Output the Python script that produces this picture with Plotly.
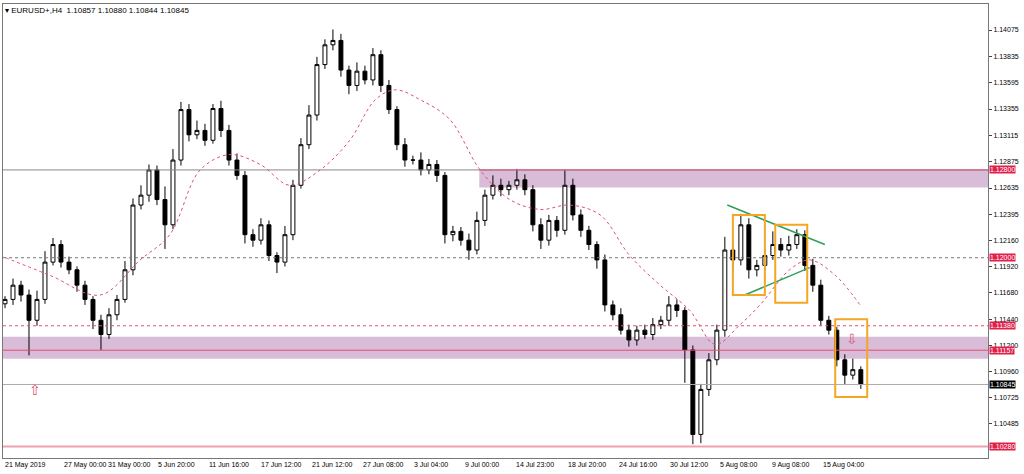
import plotly.graph_objects as go

# closes, one bar every ~8px of the original chart
closes = [1.1162, 1.1175, 1.1166, 1.1143, 1.1162, 1.1196, 1.1212, 1.1196, 1.1189, 1.1175,
          1.1162, 1.1143, 1.1130, 1.1148, 1.1162, 1.1189, 1.1248, 1.1257, 1.1280, 1.1253,
          1.1230, 1.1289, 1.1335, 1.1312, 1.1316, 1.1307, 1.1336, 1.1316, 1.1289, 1.1275,
          1.1221, 1.1216, 1.1230, 1.1202, 1.1196, 1.1221, 1.1266, 1.1303, 1.1330, 1.1376,
          1.1394, 1.1398, 1.1371, 1.1357, 1.1370, 1.1362, 1.1385, 1.1357, 1.1335, 1.1303,
          1.1289, 1.1289, 1.1280, 1.1285, 1.1275, 1.1221, 1.1224, 1.1216, 1.1207, 1.1234,
          1.1257, 1.1266, 1.1262, 1.1266, 1.1271, 1.1262, 1.1230, 1.1216, 1.1234, 1.1225,
          1.1266, 1.1239, 1.1225, 1.1212, 1.1198, 1.1157, 1.1148, 1.1134, 1.1125, 1.1134,
          1.1130, 1.1139, 1.1143, 1.1157, 1.1152, 1.1116, 1.1039, 1.1080, 1.1107, 1.1134,
          1.1207, 1.1198, 1.1230, 1.1189, 1.1193, 1.1202, 1.1212, 1.1207, 1.1212, 1.1221,
          1.1193, 1.1175, 1.1143, 1.1134, 1.1107, 1.1093, 1.1098, 1.10845]
opens = [1.1158] + closes[:-1]
wick_up = [3, 6, 4, 5, 8, 10, 6, 4, 5, 3, 4, 3, 5, 6, 4, 8, 6, 9, 5, 4,
           12, 10, 7, 5, 9, 6, 4, 7, 5, 6, 4, 5, 6, 4, 3, 8, 5, 6, 9, 7,
           5, 10, 6, 4, 8, 5, 6, 4, 5, 3, 6, 4, 7, 5, 4, 3, 5, 4, 6, 8,
           5, 9, 6, 4, 10, 5, 4, 6, 5, 4, 14, 6, 5, 4, 3, 5, 4, 6, 5, 4,
           5, 6, 4, 8, 5, 3, 4, 5, 6, 5, 12, 8, 10, 6, 5, 7, 12, 6, 8, 5,
           4, 6, 5, 4, 3, 5, 10, 3]
wick_dn = [4, 5, 6, 32, 5, 4, 3, 5, 4, 6, 5, 8, 14, 4, 5, 3, 5, 4, 6, 5,
           22, 4, 5, 6, 4, 5, 3, 6, 5, 4, 8, 6, 4, 5, 10, 4, 5, 3, 4, 5,
           4, 5, 6, 8, 5, 4, 5, 6, 4, 5, 6, 4, 5, 4, 6, 8, 6, 5, 9, 4,
           5, 4, 6, 5, 4, 5, 6, 8, 5, 6, 4, 5, 6, 5, 8, 6, 5, 4, 6, 5,
           4, 5, 4, 5, 6, 30, 9, 8, 6, 5, 6, 10, 5, 8, 6, 5, 4, 6, 5, 4,
           5, 6, 5, 4, 6, 8, 4, 4]
highs = [max(o, c) + w * 0.0001 for o, c, w in zip(opens, closes, wick_up)]
lows = [min(o, c) - w * 0.0001 for o, c, w in zip(opens, closes, wick_dn)]
bars = list(range(len(closes)))

ma_x = [-0.6, 5.6, 11.9, 16.9, 20.6, 24.4, 28.1, 31.9, 35.6, 39.4, 43.1, 46.3, 48.8, 51.9, 55.6,
        59.4, 63.1, 66.9, 70.6, 74.4, 78.1, 81.9, 85.6, 88.8, 91.9, 94.4, 98.1, 100.6, 103.8, 106.9]
ma_y = [1.1202, 1.1184, 1.1166, 1.1198, 1.1221, 1.1280, 1.1294, 1.1285, 1.1266, 1.1280, 1.1307,
        1.1344, 1.1353, 1.1344, 1.1326, 1.1280, 1.1253, 1.1244, 1.1248, 1.1239, 1.1202, 1.1175,
        1.1152, 1.1121, 1.1139, 1.1157, 1.1189, 1.1198, 1.1184, 1.1157]

y_ticks = [1.14075, 1.13835, 1.13595, 1.13355, 1.13115, 1.12875, 1.12635, 1.12395, 1.12160,
           1.11920, 1.11680, 1.11440, 1.11200, 1.10960, 1.10725, 1.10485]
date_pos = [-0.25, 7.1, 12.6, 18.9, 25.2, 31.8, 38.1, 44.5, 50.9, 57.2, 63.6, 70.1, 76.5, 82.9, 89.2, 95.6, 102.0]
date_labels = ["21 May 2019", "27 May 00:00", "31 May 00:00", "5 Jun 20:00", "11 Jun 16:00",
               "17 Jun 12:00", "21 Jun 12:00", "27 Jun 08:00", "3 Jul 04:00", "9 Jul 00:00",
               "14 Jul 23:00", "18 Jul 20:00", "24 Jul 16:00", "30 Jul 12:00", "5 Aug 08:00",
               "9 Aug 08:00", "15 Aug 04:00"]
red_levels = [1.12800, 1.12000, 1.11380, 1.11157, 1.10280]
last_price = 1.10845

X0, X1 = -0.25, 122.9
Y0, Y1 = 1.10175, 1.14312
FONT = "Liberation Sans"

fig = go.Figure()
fig.add_trace(go.Candlestick(
    x=bars, open=opens, high=highs, low=lows, close=closes,
    increasing=dict(line=dict(color="black", width=1), fillcolor="white"),
    decreasing=dict(line=dict(color="black", width=1), fillcolor="black"),
    whiskerwidth=0, showlegend=False))
fig.add_trace(go.Scatter(x=ma_x, y=ma_y, mode="lines", line=dict(color="#e05070", width=1, dash="dot"),
                         line_shape="spline", showlegend=False, hoverinfo="skip"))

shapes = []
# zones
shapes.append(dict(type="rect", x0=59.3, x1=X1, y0=1.12640, y1=1.12800, fillcolor="#d8bcd8",
                   line=dict(width=0), layer="below"))
shapes.append(dict(type="rect", x0=X0, x1=X1, y0=1.11080, y1=1.11280, fillcolor="#d8bcd8",
                   line=dict(width=0), layer="below"))
# levels
shapes.append(dict(type="line", x0=X0, x1=X1, y0=1.12800, y1=1.12800, line=dict(color="#888", width=1)))
shapes.append(dict(type="line", x0=59.3, x1=X1, y0=1.12800, y1=1.12800, line=dict(color="#e05070", width=1)))
shapes.append(dict(type="line", x0=X0, x1=X1, y0=1.12000, y1=1.12000, line=dict(color="#777", width=1, dash="dot")))
shapes.append(dict(type="line", x0=X0, x1=X1, y0=1.11380, y1=1.11380, line=dict(color="#e05070", width=1, dash="dot")))
shapes.append(dict(type="line", x0=X0, x1=X1, y0=1.11157, y1=1.11157, line=dict(color="#e05070", width=1)))
shapes.append(dict(type="line", x0=X0, x1=X1, y0=last_price, y1=last_price, line=dict(color="#aaa", width=1)))
shapes.append(dict(type="line", x0=X0, x1=X1, y0=1.10280, y1=1.10280, line=dict(color="#f0a0b0", width=2)))
# trendlines
shapes.append(dict(type="line", x0=90.3, x1=102.5, y0=1.1248, y1=1.1212, line=dict(color="#2ca05a", width=1.5)))
shapes.append(dict(type="line", x0=92.5, x1=100.6, y0=1.1166, y1=1.1191, line=dict(color="#2ca05a", width=1.5)))
# boxes
for bx0, bx1, by0, by1 in [(91, 95, 1.1166, 1.1239), (96.3, 100.3, 1.1159, 1.1230), (103.8, 107.8, 1.1073, 1.1144)]:
    shapes.append(dict(type="rect", x0=bx0, x1=bx1, y0=by0, y1=by1, line=dict(color="#f5a623", width=2)))

ann = [dict(x=0.0, y=1.0, xref="paper", yref="paper", xanchor="left", yanchor="top", showarrow=False,
            text="▾ EURUSD+,H4  1.10857 1.10880 1.10844 1.10845", font=dict(size=8, family=FONT, color="black"))]
for p, t in zip(date_pos, date_labels):
    ann.append(dict(x=p, y=0, xref="x", yref="paper", xanchor="left", yanchor="top", yshift=-1,
                    showarrow=False, text=t, font=dict(size=7, family=FONT, color="black")))
for lv in red_levels:
    ann.append(dict(x=1, y=lv, xref="paper", yref="y", xanchor="left", showarrow=False, xshift=1,
                    text=f"{lv:.5f}", bgcolor="#e0204a", font=dict(size=7, family=FONT, color="white"),
                    borderpad=0))
ann.append(dict(x=1, y=last_price, xref="paper", yref="y", xanchor="left", showarrow=False, xshift=1,
                text=f"{last_price:.5f}", bgcolor="black", font=dict(size=7, family=FONT, color="white"),
                borderpad=0))
ann.append(dict(x=3.75, y=1.1080, showarrow=False, text="⇧", font=dict(size=14, color="#e05070")))
ann.append(dict(x=105.9, y=1.1126, showarrow=False, text="⇩", font=dict(size=14, color="#e05070")))

fig.update_layout(
    width=1024, height=474, paper_bgcolor="white", plot_bgcolor="white",
    margin=dict(l=3, r=36, t=4, b=16, autoexpand=False), shapes=shapes, annotations=ann,
    xaxis=dict(range=[X0, X1], showticklabels=False, showgrid=False, zeroline=False,
               rangeslider=dict(visible=False), showline=True, linecolor="#777", mirror=True),
    yaxis=dict(range=[Y0, Y1], side="right", tickvals=y_ticks, ticktext=[f"{v:.5f}" for v in y_ticks],
               ticks="outside", ticklen=3, tickfont=dict(size=7, family=FONT, color="black"),
               showgrid=False, zeroline=False, showline=True, linecolor="#777", mirror=True),
)
fig.write_html("out.html", config={"displayModeBar": False},
               post_script="document.body.style.margin='0';document.body.style.overflow='hidden';")
